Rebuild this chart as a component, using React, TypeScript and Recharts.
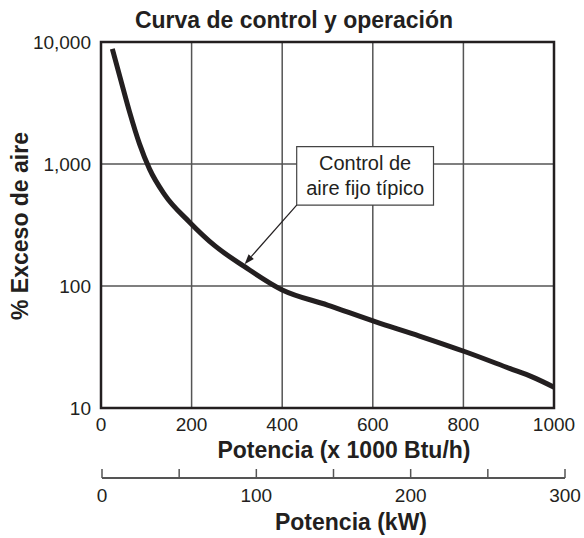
import React from 'react'
import {
  LineChart,
  Line,
  XAxis,
  YAxis,
  CartesianGrid,
  ReferenceArea,
  ReferenceLine,
  Label,
} from 'recharts'

// potencia en miles de Btu/h, exceso de aire en %
const potencia = [25, 44, 63, 85, 107, 140, 195, 251, 317, 399, 500, 605, 703, 804, 902, 953, 1000]
const exceso = [8770, 4830, 2675, 1462, 912, 564, 335, 214, 144, 93.3, 69.8, 51, 38.9, 28.9, 21.1, 17.9, 14.8]

const btuTicks = [0, 200, 400, 600, 800, 1000]
const pctTicks = [10, 100, 1000, 10000]
const kwTicks = [0, 50, 100, 150, 200, 250, 300]
const kwLabels = [0, 100, 200, 300]

const nota = ['Control de', 'aire fijo típico']
// caja de la nota y punta de la flecha (coordenadas de datos)
const notaCaja = { x1: 432, x2: 734, y1: 461, y2: 1387 }
const notaPunta = { x: 317, y: 151 }

const data = potencia.map((p, i) => ({ potencia: p, exceso: exceso[i] }))
const kwData = kwTicks.map((kw) => ({ kw }))

const INK = '#231f20'
const GRID = '#555'
const FONT = '"Liberation Sans", Arial, Helvetica, sans-serif'

const Arrow = (props: any) => {
  const { x1, y1, x2, y2 } = props
  const a = Math.atan2(y2 - y1, x2 - x1)
  const len = 10
  const w = 3.5
  const bx = x2 - len * Math.cos(a)
  const by = y2 - len * Math.sin(a)
  const p1 = `${bx + w * Math.sin(a)},${by - w * Math.cos(a)}`
  const p2 = `${bx - w * Math.sin(a)},${by + w * Math.cos(a)}`
  return (
    <g>
      <line x1={x1} y1={y1} x2={bx} y2={by} stroke={INK} strokeWidth={1.2} />
      <polygon points={`${x2},${y2} ${p1} ${p2}`} fill={INK} />
    </g>
  )
}

const KwTick = (props: any) => {
  const { x, y, payload } = props
  return (
    <g>
      <line x1={x} x2={x} y1={y - 9} y2={y} stroke={GRID} strokeWidth={1.5} />
      {kwLabels.includes(payload.value) && (
        <text x={x} y={y + 24} textAnchor="middle" fill={INK} fontSize={19} fontFamily={FONT}>
          {payload.value}
        </text>
      )}
    </g>
  )
}

const App: React.FC = () => {
  return (
    <div style={{ position: 'absolute', left: 0, top: 0, width: 584, height: 538, background: '#fff' }}>
      <LineChart
        width={584}
        height={538}
        data={data}
        margin={{ top: 42, right: 30, left: 0, bottom: 100 }}
      >
        <CartesianGrid stroke={GRID} strokeWidth={1.5} />
        <XAxis
          dataKey="potencia"
          type="number"
          domain={[0, 1000]}
          ticks={btuTicks}
          interval={0}
          height={30}
          axisLine={false}
          tickLine={false}
          tickSize={0}
          tickMargin={10}
          tick={{ fill: INK, fontSize: 19, fontFamily: FONT }}
        >
          <Label
            content={() => (
              <text x={344} y={458} textAnchor="middle" fill={INK} fontSize={23} fontWeight="bold" fontFamily={FONT}>
                Potencia (x 1000 Btu/h)
              </text>
            )}
          />
        </XAxis>
        <YAxis
          scale="log"
          domain={[10, 10000]}
          ticks={pctTicks}
          interval={0}
          width={101}
          axisLine={false}
          tickLine={false}
          tickSize={0}
          tickMargin={10}
          tickFormatter={(v: number) => v.toLocaleString('en-US')}
          tick={{ fill: INK, fontSize: 19, fontFamily: FONT }}
        >
          <Label
            content={() => (
              <text
                x={28}
                y={226}
                transform="rotate(-90, 28, 226)"
                textAnchor="middle"
                fill={INK}
                fontSize={23}
                fontWeight="bold"
                fontFamily={FONT}
              >
                % Exceso de aire
              </text>
            )}
          />
        </YAxis>
        <ReferenceArea
          x1={notaCaja.x1}
          x2={notaCaja.x2}
          y1={notaCaja.y1}
          y2={notaCaja.y2}
          fill="#fff"
          fillOpacity={1}
          stroke="#444"
          strokeWidth={1.2}
          label={(p: any) => {
            const vb = p.viewBox
            const cx = vb.x + vb.width / 2
            return (
              <g>
                {nota.map((t, i) => (
                  <text key={t} x={cx} y={vb.y + 23 + i * 25} textAnchor="middle" fill={INK} fontSize={20} fontFamily={FONT}>
                    {t}
                  </text>
                ))}
              </g>
            )
          }}
        />
        <ReferenceLine
          segment={[
            { x: notaCaja.x1, y: notaCaja.y1 },
            { x: notaPunta.x, y: notaPunta.y },
          ]}
          shape={Arrow}
        />
        <ReferenceArea
          x1={0}
          x2={1000}
          y1={10}
          y2={10000}
          fill="none"
          fillOpacity={0}
          stroke={INK}
          strokeWidth={2.5}
          label={() => (
            <text x={294} y={28} textAnchor="middle" fill={INK} fontSize={23} fontWeight="bold" fontFamily={FONT}>
              Curva de control y operación
            </text>
          )}
        />
        <Line
          dataKey="exceso"
          type="monotone"
          stroke={INK}
          strokeWidth={5}
          dot={false}
          isAnimationActive={false}
        />
      </LineChart>
      <div style={{ position: 'absolute', left: 0, top: 440 }}>
        <LineChart width={584} height={98} data={kwData} margin={{ top: 8, right: 19, left: 102, bottom: 0 }}>
          <XAxis
            dataKey="kw"
            type="number"
            domain={[0, 300]}
            ticks={kwTicks}
            interval={0}
            height={60}
            axisLine={{ stroke: GRID, strokeWidth: 2 }}
            tickLine={false}
            tickSize={0}
            tickMargin={0}
            tick={KwTick}
          >
            <Label
              content={() => (
                <text x={351} y={90} textAnchor="middle" fill={INK} fontSize={23} fontWeight="bold" fontFamily={FONT}>
                  Potencia (kW)
                </text>
              )}
            />
          </XAxis>
        </LineChart>
      </div>
    </div>
  )
}

export default App
